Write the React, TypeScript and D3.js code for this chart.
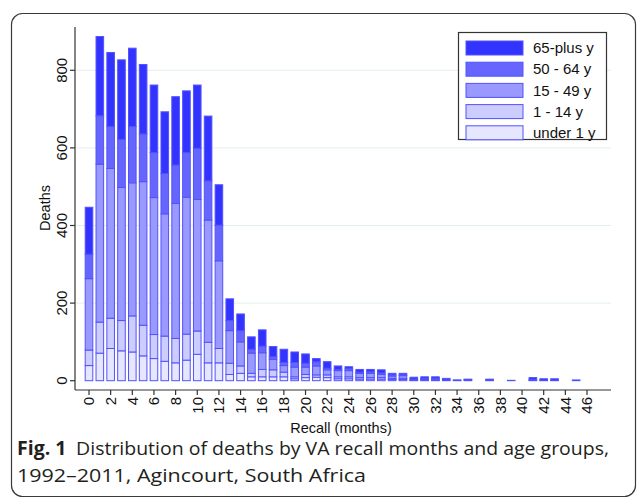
import React, {useRef, useEffect} from 'react';
import * as d3 from 'd3';

// recall month (0..46) and deaths per age group
const months = d3.range(0, 47);
const under1 = [39, 71, 83, 77, 74, 64, 57, 50, 46, 53, 68, 46, 46, 16, 19, 10, 10, 10, 10, 5, 8, 9, 8, 5, 5, 4, 4, 4, 3, 3, 0, 1, 1, 0, 0, 0, 0, 0, 0, 0, 0, 0, 0, 0, 0, 0, 0];
const age1to14 = [40, 80, 78, 78, 93, 79, 62, 65, 63, 67, 60, 53, 37, 29, 19, 9, 19, 18, 12, 5, 8, 6, 7, 5, 5, 4, 4, 4, 3, 3, 1, 1, 1, 0, 0, 0, 0, 0, 0, 0, 0, 0, 0, 0, 0, 0, 0];
const age15to49 = [184, 407, 386, 343, 343, 370, 353, 315, 348, 353, 339, 315, 226, 84, 62, 52, 43, 27, 17, 25, 19, 23, 13, 16, 16, 11, 11, 8, 6, 7, 1, 2, 3, 2, 1, 2, 0, 0, 0, 1, 0, 1, 1, 0, 0, 2, 0];
const age50to64 = [63, 125, 108, 124, 145, 123, 116, 104, 99, 115, 132, 101, 92, 26, 29, 10, 17, 7, 8, 12, 10, 11, 4, 3, 5, 3, 4, 4, 3, 2, 2, 2, 1, 0, 0, 1, 0, 1, 0, 0, 0, 2, 0, 1, 0, 0, 0];
const age65plus = [121, 204, 191, 205, 202, 179, 174, 159, 176, 159, 163, 167, 104, 56, 43, 32, 42, 26, 34, 27, 24, 8, 17, 9, 5, 7, 6, 8, 4, 4, 5, 4, 4, 4, 1, 1, 0, 3, 0, 0, 0, 5, 4, 4, 0, 0, 0];

const groups = ['under 1 y', '1 - 14 y', '15 - 49 y', '50 - 64 y', '65-plus y'];
const colors = ['#e6e6ff', '#ccccff', '#9999ff', '#6666ff', '#3333ff'];
const yTicks = [0, 200, 400, 600, 800];
const xTicks = d3.range(0, 47, 2);

const App = () => {
    const svgRef = useRef(null);
    const width = 637, height = 501;

    useEffect(() => {
        const svg = d3.select(svgRef.current);
        svg.selectAll('*').remove();

        const font = 'Liberation Sans, Arial, sans-serif';
        const axisColor = '#333333';

        // outer frame of the figure
        svg.append('rect')
            .attr('x', 11.5).attr('y', 13.5)
            .attr('width', 624).attr('height', 483)
            .attr('rx', 11)
            .attr('fill', 'white')
            .attr('stroke', '#3a3a3a')
            .attr('stroke-width', 1.2);

        const table = months.map((m, i) => ({
            month: m,
            [groups[0]]: under1[i],
            [groups[1]]: age1to14[i],
            [groups[2]]: age15to49[i],
            [groups[3]]: age50to64[i],
            [groups[4]]: age65plus[i]
        }));

        const x = d3.scaleLinear().domain([0, 46]).range([89, 587]);
        const y = d3.scaleLinear().domain([0, 800]).range([380.7, 70.3]);
        const barW = 7.6;

        const plotLeft = 75, plotRight = 611, axisY = 390, plotTop = 27;

        // grid lines
        svg.append('g').selectAll('line')
            .data(yTicks.filter(d => d > 0))
            .join('line')
            .attr('x1', plotLeft + 1).attr('x2', plotRight)
            .attr('y1', d => y(d)).attr('y2', d => y(d))
            .attr('stroke', '#e3eef0')
            .attr('stroke-width', 1);

        // stacked bars
        const stacked = d3.stack().keys(groups)(table);
        const layers = svg.append('g').selectAll('g')
            .data(stacked)
            .join('g')
            .attr('fill', (d, i) => colors[i]);

        layers.selectAll('rect')
            .data(d => d.filter(s => s[1] - s[0] > 0))
            .join('rect')
            .attr('x', d => x(d.data.month) - barW / 2)
            .attr('width', barW)
            .attr('y', d => y(d[1]))
            .attr('height', d => y(d[0]) - y(d[1]))
            .attr('stroke', '#5252ff')
            .attr('stroke-width', 1);

        // axes
        svg.append('line')
            .attr('x1', plotLeft).attr('x2', plotLeft)
            .attr('y1', plotTop).attr('y2', axisY)
            .attr('stroke', axisColor).attr('stroke-width', 1.2);
        svg.append('line')
            .attr('x1', plotLeft).attr('x2', plotRight)
            .attr('y1', axisY).attr('y2', axisY)
            .attr('stroke', axisColor).attr('stroke-width', 1.2);

        const yAxis = svg.append('g');
        yAxis.selectAll('line')
            .data(yTicks)
            .join('line')
            .attr('x1', 70).attr('x2', plotLeft)
            .attr('y1', d => y(d)).attr('y2', d => y(d))
            .attr('stroke', axisColor).attr('stroke-width', 1.2);
        yAxis.selectAll('text')
            .data(yTicks)
            .join('text')
            .attr('transform', d => 'translate(67,' + y(d) + ') rotate(-90)')
            .attr('text-anchor', 'middle')
            .attr('font-family', font)
            .attr('font-size', 15)
            .attr('fill', '#111')
            .text(d => d);

        const xAxis = svg.append('g');
        xAxis.selectAll('line')
            .data(xTicks)
            .join('line')
            .attr('x1', d => x(d)).attr('x2', d => x(d))
            .attr('y1', axisY).attr('y2', axisY + 5)
            .attr('stroke', axisColor).attr('stroke-width', 1.2);
        xAxis.selectAll('text')
            .data(xTicks)
            .join('text')
            .attr('transform', d => 'translate(' + x(d) + ',' + (axisY + 7) + ') rotate(-90)')
            .attr('text-anchor', 'end')
            .attr('dy', '0.35em')
            .attr('font-family', font)
            .attr('font-size', 15)
            .attr('fill', '#111')
            .text(d => d);

        svg.append('text')
            .attr('transform', 'translate(50,208) rotate(-90)')
            .attr('text-anchor', 'middle')
            .attr('font-family', font)
            .attr('font-size', 14.5)
            .attr('fill', '#111')
            .text('Deaths');

        svg.append('text')
            .attr('x', 341).attr('y', 433)
            .attr('text-anchor', 'middle')
            .attr('font-family', font)
            .attr('font-size', 14.5)
            .attr('fill', '#111')
            .text('Recall (months)');

        // legend, top group first
        const legend = svg.append('g');
        legend.append('rect')
            .attr('x', 458.5).attr('y', 32.5)
            .attr('width', 148).attr('height', 107)
            .attr('fill', 'white')
            .attr('stroke', '#333').attr('stroke-width', 1.2);
        const order = [4, 3, 2, 1, 0];
        const rows = legend.selectAll('g.row')
            .data(order)
            .join('g')
            .attr('class', 'row')
            .attr('transform', (d, i) => 'translate(0,' + (48 + i * 21.2) + ')');
        rows.append('rect')
            .attr('x', 466).attr('y', -7)
            .attr('width', 57).attr('height', 14)
            .attr('fill', d => colors[d])
            .attr('stroke', '#5252ff').attr('stroke-width', 1);
        rows.append('text')
            .attr('x', 533).attr('y', 0)
            .attr('dy', '0.35em')
            .attr('font-family', font)
            .attr('font-size', 15)
            .attr('fill', '#111')
            .text(d => groups[d]);

        // figure caption
        const capFont = 'Open Sans, Noto Sans, sans-serif';
        const line1 = svg.append('text')
            .attr('x', 17).attr('y', 455)
            .attr('font-family', capFont)
            .attr('font-size', 19)
            .attr('fill', '#231f20')
            .attr('textLength', 592)
            .attr('lengthAdjust', 'spacingAndGlyphs');
        line1.append('tspan').attr('font-weight', 700).text('Fig. 1');
        line1.append('tspan').text('\u2002Distribution of deaths by VA recall months and age groups,');

        svg.append('text')
            .attr('x', 17).attr('y', 482)
            .attr('font-family', capFont)
            .attr('font-size', 19)
            .attr('fill', '#231f20')
            .attr('textLength', 349)
            .attr('lengthAdjust', 'spacingAndGlyphs')
            .text('1992\u20132011, Agincourt, South Africa');
    }, []);

    return (
        <svg ref={svgRef} width={width} height={height}
             style={{position: 'absolute', left: 0, top: 0, background: 'white'}}/>
    );
};

export default App;
